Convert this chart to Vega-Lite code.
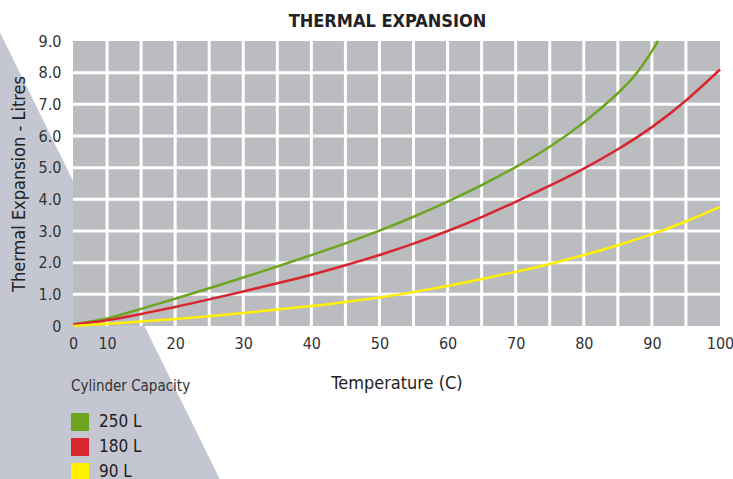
{
  "$schema": "https://vega.github.io/schema/vega-lite/v6.json",
  "width": 647,
  "height": 285,
  "autosize": {"type": "none"},
  "padding": {"left": 73, "top": 41, "right": 13, "bottom": 153},
  "background": "white",
  "config": {
    "font": "Liberation Sans Narrow, DejaVu Sans Condensed, sans-serif",
    "view": {"stroke": null},
    "axis": {"labelOverlap": false, "labelBound": false}
  },
  "title": {
    "text": "THERMAL EXPANSION",
    "fontSize": 18,
    "fontWeight": "bold",
    "color": "#222222",
    "anchor": "middle",
    "frame": "group",
    "dx": -9,
    "offset": 1,
    "font": "Liberation Sans Narrow, DejaVu Sans Condensed, sans-serif"
  },
  "datasets": {
    "one": [{"a": 1}],
    "tri": [
      {"ty": 9.27, "tx0": -5.8, "tx": -5.72},
      {"ty": -5.49, "tx0": -5.8, "tx": 28.05}
    ],
    "gridx": [
      {"g": 10}, {"g": 15}, {"g": 20}, {"g": 25}, {"g": 30}, {"g": 35}, {"g": 40}, {"g": 45}, {"g": 50},
      {"g": 55}, {"g": 60}, {"g": 65}, {"g": 70}, {"g": 75}, {"g": 80}, {"g": 85}, {"g": 90}, {"g": 95}
    ],
    "gridy": [
      {"g": 1}, {"g": 2}, {"g": 3}, {"g": 4}, {"g": 5}, {"g": 6}, {"g": 7}, {"g": 8}
    ],
    "curves": [
      {"T": 5, "V": 0.05, "s": "250 L"},
      {"T": 10, "V": 0.24, "s": "250 L"},
      {"T": 15, "V": 0.54, "s": "250 L"},
      {"T": 20, "V": 0.86, "s": "250 L"},
      {"T": 25, "V": 1.19, "s": "250 L"},
      {"T": 30, "V": 1.53, "s": "250 L"},
      {"T": 35, "V": 1.88, "s": "250 L"},
      {"T": 40, "V": 2.24, "s": "250 L"},
      {"T": 45, "V": 2.61, "s": "250 L"},
      {"T": 50, "V": 3.01, "s": "250 L"},
      {"T": 55, "V": 3.45, "s": "250 L"},
      {"T": 60, "V": 3.93, "s": "250 L"},
      {"T": 65, "V": 4.45, "s": "250 L"},
      {"T": 70, "V": 5.02, "s": "250 L"},
      {"T": 75, "V": 5.66, "s": "250 L"},
      {"T": 80, "V": 6.43, "s": "250 L"},
      {"T": 85, "V": 7.35, "s": "250 L"},
      {"T": 88, "V": 8.05, "s": "250 L"},
      {"T": 90, "V": 8.68, "s": "250 L"},
      {"T": 90.9, "V": 9.0, "s": "250 L"},
      {"T": 5, "V": 0.05, "s": "180 L"},
      {"T": 10, "V": 0.18, "s": "180 L"},
      {"T": 15, "V": 0.38, "s": "180 L"},
      {"T": 20, "V": 0.6, "s": "180 L"},
      {"T": 25, "V": 0.84, "s": "180 L"},
      {"T": 30, "V": 1.09, "s": "180 L"},
      {"T": 35, "V": 1.35, "s": "180 L"},
      {"T": 40, "V": 1.62, "s": "180 L"},
      {"T": 45, "V": 1.92, "s": "180 L"},
      {"T": 50, "V": 2.24, "s": "180 L"},
      {"T": 55, "V": 2.6, "s": "180 L"},
      {"T": 60, "V": 3.0, "s": "180 L"},
      {"T": 65, "V": 3.44, "s": "180 L"},
      {"T": 70, "V": 3.92, "s": "180 L"},
      {"T": 75, "V": 4.43, "s": "180 L"},
      {"T": 80, "V": 4.97, "s": "180 L"},
      {"T": 85, "V": 5.58, "s": "180 L"},
      {"T": 90, "V": 6.28, "s": "180 L"},
      {"T": 95, "V": 7.12, "s": "180 L"},
      {"T": 100, "V": 8.1, "s": "180 L"},
      {"T": 5, "V": 0.0, "s": "90 L"},
      {"T": 10, "V": 0.07, "s": "90 L"},
      {"T": 15, "V": 0.14, "s": "90 L"},
      {"T": 20, "V": 0.22, "s": "90 L"},
      {"T": 25, "V": 0.31, "s": "90 L"},
      {"T": 30, "V": 0.41, "s": "90 L"},
      {"T": 35, "V": 0.52, "s": "90 L"},
      {"T": 40, "V": 0.63, "s": "90 L"},
      {"T": 45, "V": 0.76, "s": "90 L"},
      {"T": 50, "V": 0.9, "s": "90 L"},
      {"T": 55, "V": 1.07, "s": "90 L"},
      {"T": 60, "V": 1.26, "s": "90 L"},
      {"T": 65, "V": 1.48, "s": "90 L"},
      {"T": 70, "V": 1.71, "s": "90 L"},
      {"T": 75, "V": 1.96, "s": "90 L"},
      {"T": 80, "V": 2.24, "s": "90 L"},
      {"T": 85, "V": 2.55, "s": "90 L"},
      {"T": 90, "V": 2.9, "s": "90 L"},
      {"T": 95, "V": 3.3, "s": "90 L"},
      {"T": 100, "V": 3.76, "s": "90 L"}
    ]
  },
  "layer": [
    {
      "data": {"name": "tri"},
      "mark": {"type": "area", "orient": "horizontal", "clip": false, "color": "#c4c7d1", "interpolate": "linear"},
      "encoding": {
        "y": {
          "field": "ty",
          "type": "quantitative",
          "scale": {"domain": [0, 9], "nice": false, "zero": false},
          "axis": {
            "title": "Thermal Expansion - Litres",
            "values": [0, 1, 2, 3, 4, 5, 6, 7, 8, 9],
            "tickCount": 10,
            "labelExpr": "datum.value == 0 ? '0' : format(datum.value, '.1f')",
            "labelOverlap": false,
            "labelSeparation": 0,
            "grid": false,
            "domain": false,
            "ticks": false,
            "labelFontSize": 16,
            "labelColor": "#333333",
            "labelPadding": 12,
            "labelFlush": false,
            "titleFontSize": 18,
            "titleFontWeight": "normal",
            "titleColor": "#222222",
            "titlePadding": 10,
            "zindex": 1
          }
        },
        "x": {
          "field": "tx",
          "type": "quantitative",
          "scale": {"domain": [5, 100], "nice": false, "zero": false},
          "axis": {
            "title": "Temperature (C)",
            "values": [5, 10, 20, 30, 40, 50, 60, 70, 80, 90, 100],
            "labelExpr": "datum.value == 5 ? '0' : datum.label",
            "labelOverlap": false,
            "grid": false,
            "domain": false,
            "ticks": false,
            "labelFontSize": 16,
            "labelColor": "#333333",
            "labelPadding": 9,
            "labelFlush": false,
            "titleFontSize": 18,
            "titleFontWeight": "normal",
            "titleColor": "#222222",
            "titlePadding": 23,
            "zindex": 1,
            "encode": {"labels": {"update": {"dx": {"signal": "datum.value == 5 ? -3 : 0"}, "dy": {"signal": "datum.value == 5 ? 3 : 0"}}}}
          }
        },
        "x2": {"field": "tx0"}
      }
    },
    {
      "data": {"name": "one"},
      "mark": {"type": "rect", "color": "#bbbcc0"},
      "encoding": {
        "x": {"datum": 5, "type": "quantitative"},
        "x2": {"datum": 100},
        "y": {"datum": 0, "type": "quantitative"},
        "y2": {"datum": 9}
      }
    },
    {
      "data": {"name": "gridx"},
      "mark": {"type": "rule", "color": "white", "strokeWidth": 3},
      "encoding": {"x": {"field": "g", "type": "quantitative"}}
    },
    {
      "data": {"name": "gridy"},
      "mark": {"type": "rule", "color": "white", "strokeWidth": 3},
      "encoding": {"y": {"field": "g", "type": "quantitative"}}
    },
    {
      "data": {"name": "curves"},
      "mark": {"type": "line", "strokeWidth": 2.5, "interpolate": "natural"},
      "encoding": {
        "x": {"field": "T", "type": "quantitative"},
        "y": {
          "field": "V",
          "type": "quantitative",
          "axis": {
            "title": "Thermal Expansion - Litres",
            "values": [0, 1, 2, 3, 4, 5, 6, 7, 8, 9],
            "tickCount": 10,
            "labelExpr": "datum.value == 0 ? '0' : format(datum.value, '.1f')",
            "labelOverlap": false,
            "labelSeparation": 0,
            "grid": false,
            "domain": false,
            "ticks": false,
            "labelFontSize": 16,
            "labelColor": "#333333",
            "labelPadding": 12,
            "labelFlush": false,
            "titleFontSize": 18,
            "titleFontWeight": "normal",
            "titleColor": "#222222",
            "titlePadding": 10,
            "zindex": 1
          }
        },
        "color": {
          "field": "s",
          "type": "nominal",
          "scale": {"domain": ["250 L", "180 L", "90 L"], "range": ["#6ea51e", "#d7262e", "#fff000"]},
          "legend": {
            "title": "Cylinder Capacity",
            "orient": "none",
            "legendX": -2,
            "legendY": 338,
            "padding": 0,
            "titleFontSize": 15,
            "titleFontWeight": "normal",
            "titleColor": "#333333",
            "titlePadding": 19,
            "labelFontSize": 17,
            "labelColor": "#222222",
            "labelOffset": 10,
            "rowPadding": 7,
            "symbolType": "square",
            "symbolSize": 324,
            "symbolStrokeWidth": 0,
            "encode": {"symbols": {"update": {"fill": {"scale": "color", "field": "value"}, "shape": {"value": "square"}, "strokeWidth": {"value": 0}, "opacity": {"value": 1}}}}
          }
        }
      }
    }
  ]
}
